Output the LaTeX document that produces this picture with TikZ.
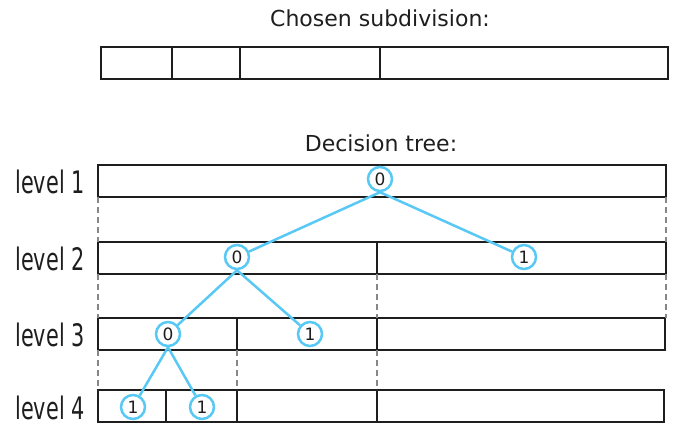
\documentclass[tikz,border=0pt]{standalone}
\usepackage{fontspec}
\setmainfont{DejaVu Sans}
\newfontfamily\condfont[FakeStretch=0.67]{DejaVu Sans}
\definecolor{treeblue}{RGB}{88,200,245}
\definecolor{barline}{RGB}{30,30,30}
\definecolor{dashgray}{RGB}{135,135,135}
\begin{document}
\begin{tikzpicture}[x=1pt,y=-1pt,
  bar/.style={draw=barline, line width=2.6pt, anchor=north west, minimum height=32pt, inner sep=0pt, outer sep=0pt},
  divider/.style={draw=barline, line width=2.6pt},
  guide/.style={draw=dashgray, line width=1.8pt, dash pattern=on 6pt off 4pt},
  tnode/.style={circle, draw=treeblue, line width=2.5pt, minimum size=24pt, inner sep=0pt, fill=white, font=\fontsize{17}{17}\selectfont, text=barline},
  tedge/.style={draw=treeblue, line width=2.5pt},
  lvl/.style={font=\condfont\fontsize{31}{31}\selectfont, text=barline, anchor=base, inner sep=0pt},
  ttl/.style={font=\fontsize{22}{22}\selectfont, text=barline}]
\useasboundingbox (0,0) rectangle (688,426);

% titles
\node[ttl] (t1) at (380,18) {Chosen subdivision:};
\node[ttl] (t2) at (381,143) {Decision tree:};

% chosen subdivision bar
\node[bar, minimum width=567pt] (cs) at (101,47) {};
\foreach \dx in {71,139,279}
  \draw[divider] ([xshift=\dx pt]cs.north west) -- ([xshift=\dx pt]cs.south west);

% level bars
\node[bar, minimum width=568pt] (l1) at (98,165) {};
\node[bar, minimum width=568pt] (l2) at (98,242) {};
\node[bar, minimum width=567pt] (l3) at (98,318) {};
\node[bar, minimum width=566pt] (l4) at (98,390) {};

\draw[divider] ([xshift=279pt]l2.north west) -- ([xshift=279pt]l2.south west);
\foreach \dx in {139,279}
  \draw[divider] ([xshift=\dx pt]l3.north west) -- ([xshift=\dx pt]l3.south west);
\foreach \dx in {68,139,279}
  \draw[divider] ([xshift=\dx pt]l4.north west) -- ([xshift=\dx pt]l4.south west);

% level labels
\node[lvl] (n1) at (50,193) {level 1};
\node[lvl] (n2) at (50,270) {level 2};
\node[lvl] (n3) at (50,346) {level 3};
\node[lvl] (n4) at (50,419) {level 4};

% dashed guides
\draw[guide] (l1.south west) -- (l2.north west);
\draw[guide] (l2.south west) -- (l3.north west);
\draw[guide] (l3.south west) -- (l4.north west);
\draw[guide] (l1.south east) -- (l2.north east);
\draw[guide] (l2.south east) -- ([xshift=1pt]l3.north east);
\draw[guide] ([xshift=279pt]l2.south west) -- ([xshift=279pt]l3.north west);
\draw[guide] ([xshift=279pt]l3.south west) -- ([xshift=279pt]l4.north west);
\draw[guide] ([xshift=139pt]l3.south west) -- ([xshift=139pt]l4.north west);

% tree nodes
\node[tnode] (r) at (380,179) {0};
\node[tnode] (a) at (237,257) {0};
\node[tnode] (b) at (524,257) {1};
\node[tnode] (c) at (168,334) {0};
\node[tnode] (d) at (310,334) {1};
\node[tnode] (e) at (133,407) {1};
\node[tnode] (f) at (202,407) {1};

% tree edges
\draw[tedge] (r.south) -- (a);
\draw[tedge] (r.south) -- (b);
\draw[tedge] (a.south) -- (c);
\draw[tedge] (a.south) -- (d);
\draw[tedge] (c.south) -- (e);
\draw[tedge] (c.south) -- (f);
\end{tikzpicture}
\end{document}
